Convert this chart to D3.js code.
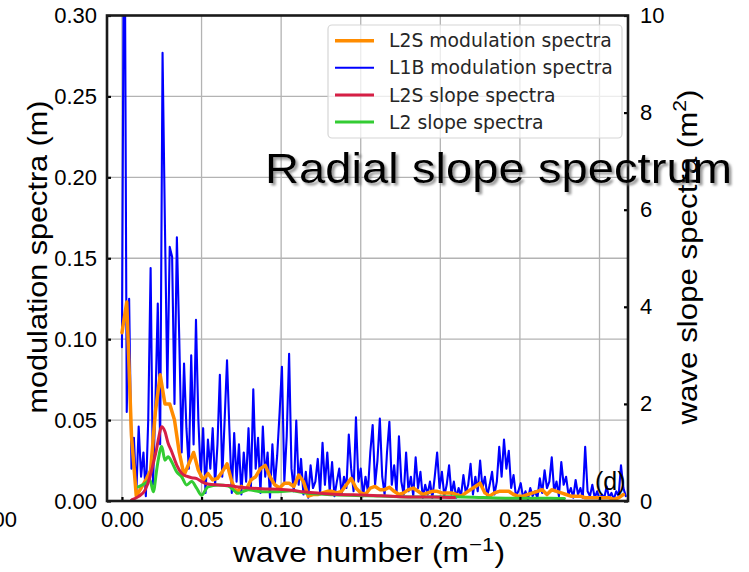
<!DOCTYPE html>
<html><head><meta charset="utf-8">
<script src="https://cdn.jsdelivr.net/npm/d3@7"></script>
<style>
html,body{margin:0;padding:0;background:#fff;}
svg{display:block;}
</style></head><body>
<svg id="chart" width="749" height="572"></svg>
<script>
// ---------------- DATA ----------------
// L1B modulation spectra (left axis, m), sampled every 0.0015 m^-1 from 0
const l1bStart = 0, l1bStep = 0.0015;
const l1bModulation = [
  0.095,0.42,0.055,0.125,0.02,0.039,0.004,0.046,0.015,0.03,
  0.003,0.05,0.144,0.01,0.06,0.122,0.035,0.277,0.17,0.07,
  0.157,0.151,0.06,0.163,0.10,0.03,0.085,0.045,0.02,0.09,
  0.035,0.112,0.05,0.015,0.045,0.005,0.038,0.02,0.045,0.01,
  0.035,0.078,0.015,0.05,0.087,0.044,0.005,0.042,0.012,0.035,
  0.004,0.03,0.012,0.045,0.008,0.069,0.02,0.039,0.005,0.046,
  0.015,0.03,0.002,0.035,0.01,0.028,0.054,0.083,0.012,0.04,
  0.091,0.02,0.006,0.0497,0.01,0.026,0.004,0.018,0.002,0.022,
  0.008,0.012,0.026,0.005,0.036,0.01,0.030,0.006,0.024,0.003,
  0.012,0.020,0.004,0.015,0.008,0.041,0.02,0.006,0.0517,0.012,
  0.02,0.003,0.015,0.006,0.03,0.047,0.01,0.025,0.051,0.015,
  0.004,0.03,0.049,0.01,0.022,0.005,0.040,0.012,0.004,0.030,
  0.006,0.015,0.003,0.027,0.008,0.018,0.002,0.01,0.004,0.012,
  0.002,0.015,0.030,0.008,0.018,0.003,0.01,0.022,0.004,0.012,
  0.002,0.008,0.003,0.016,0.005,0.01,0.023,0.004,0.015,0.006,
  0.025,0.008,0.015,0.003,0.01,0.018,0.004,0.012,0.0335,0.015,
  0.038,0.02,0.031,0.008,0.016,0.003,0.006,0.011,0.002,0.006,
  0.001,0.008,0.003,0.006,0.002,0.014,0.005,0.019,0.008,0.012,
  0.027,0.006,0.012,0.003,0.024,0.01,0.015,0.004,0.008,0.002,
  0.013,0.004,0.008,0.002,0.0335,0.006,0.003,0.010,0.002,0.006,
  0.001,0.004,0.002,0.009,0.002,0.005,0.001,0.006,0.003,0.022,
  0.008,0.003
];
// L2S modulation spectra (left axis, m), sampled every 0.003 m^-1 from 0
const l2sStart = 0, l2sStep = 0.003;
const l2sModulation = [
  0.104,0.123,0.040,0.003,0.008,0.013,0.019,0.055,0.078,0.060,
  0.060,0.050,0.030,0.016,0.023,0.030,0.019,0.013,0.017,0.013,
  0.014,0.018,0.023,0.012,0.005,0.009,0.007,0.013,0.015,0.020,
  0.022,0.015,0.010,0.008,0.011,0.011,0.009,0.016,0.012,0.003,
  0.004,0.004,0.005,0.006,0.006,0.005,0.006,0.010,0.014,0.008,
  0.005,0.004,0.008,0.009,0.007,0.007,0.0085,0.006,0.004,0.005,
  0.007,0.008,0.006,0.004,0.005,0.006,0.006,0.005,0.005,0.005,
  0.004,0.003,0.005,0.007,0.009,0.011,0.005,0.003,0.005,0.006,
  0.006,0.006,0.004,0.003,0.003,0.004,0.005,0.006,0.007,0.004,
  0.007,0.006,0.005,0.004,0.003,0.003,0.003,0.002,0.002,0.002,
  0.002,0.002,0.002,0.001,0.002,0.004
];
// slope spectra (right axis, m^2)
const slopeK = [0.006,0.0103,0.0144,0.0176,0.0197,0.0218,0.0228,0.025,0.027,0.029,
  0.0312,0.0344,0.0375,0.0406,0.0438,0.047,0.050,0.054,0.0605,0.0668,
  0.073,0.0794,0.0878,0.0982,0.1066,0.114,0.133,0.154,0.1746,0.1956,
  0.209,0.227,0.248,0.269,0.278];
const l2sSlope = [0.02,0.09,0.22,0.50,0.78,1.08,1.26,1.53,1.43,1.19,
  1.02,0.74,0.57,0.51,0.48,0.46,0.40,0.35,0.33,0.32,
  0.29,0.27,0.25,0.24,0.22,0.19,0.14,0.12,0.09,0.08,
  0.07,null,null,null,null];
const l2Slope = [null,0.29,0.36,0.43,0.19,0.64,0.85,1.12,0.84,0.91,
  0.81,0.60,0.50,0.33,0.40,0.26,0.12,0.29,0.33,0.31,
  0.16,0.23,0.19,0.19,0.21,0.17,0.13,0.11,0.09,0.08,
  0.09,0.07,0.055,0.055,0.05];

const xTicks = [0,0.05,0.10,0.15,0.20,0.25,0.30];
const yLeftTicks = [0,0.05,0.10,0.15,0.20,0.25,0.30];
const yRightTicks = [0,2,4,6,8,10];
const legendLabels = ["L2S modulation spectra","L1B modulation spectra","L2S slope spectra","L2 slope spectra"];
const seriesColors = ["#ff8c00","#0000ff","#d61f45","#33cc33"];
const seriesWidths = [3.5,2.1,3,3];

// ---------------- LAYOUT ----------------
const L = 107, R = 628, T = 15.5, B = 501;
const FONT = "'Liberation Sans', Arial, Helvetica, sans-serif";
const svg = d3.select("#chart");

const x = d3.scaleLinear().domain([-0.0094, 0.3179]).range([L, R]);
const yL = d3.scaleLinear().domain([0, 0.30]).range([B, T]);
const yR = d3.scaleLinear().domain([0, 10]).range([B, T]);

const defs = svg.append("defs");
defs.append("clipPath").attr("id","plotclip").append("rect")
  .attr("x",L).attr("y",T).attr("width",R-L).attr("height",B-T);
const f = defs.append("filter").attr("id","shadow").attr("x","-5%").attr("y","-20%").attr("width","115%").attr("height","160%");
f.append("feDropShadow").attr("dx",2.5).attr("dy",2.5).attr("stdDeviation",1.2)
  .attr("flood-color","#777").attr("flood-opacity",0.75);

// grid
const grid = svg.append("g").attr("stroke","#b3b3b3").attr("stroke-width",1.3);
grid.selectAll("line.v").data(xTicks).join("line").attr("class","v")
  .attr("x1",d=>x(d)).attr("x2",d=>x(d)).attr("y1",T).attr("y2",B);
grid.selectAll("line.h").data(yLeftTicks.filter(d=>d>0 && d<0.30)).join("line").attr("class","h")
  .attr("x1",L).attr("x2",R).attr("y1",d=>yL(d)).attr("y2",d=>yL(d));

// series
const blue = l1bModulation.map((v,i)=>({k:l1bStart+i*l1bStep, v}));
const orange = l2sModulation.map((v,i)=>({k:l2sStart+i*l2sStep, v}));
const red = slopeK.map((k,i)=>({k, v:l2sSlope[i]}));
const green = slopeK.map((k,i)=>({k, v:l2Slope[i]}));

const lineL = d3.line().x(d=>x(d.k)).y(d=>yL(d.v));
const lineR = d3.line().defined(d=>d.v!=null).x(d=>x(d.k)).y(d=>yR(d.v)).curve(d3.curveMonotoneX);

const plot = svg.append("g").attr("clip-path","url(#plotclip)").attr("fill","none")
  .attr("stroke-linejoin","round").attr("stroke-linecap","round");
plot.append("path").datum(blue).attr("d",lineL).attr("stroke",seriesColors[1]).attr("stroke-width",seriesWidths[1]);
plot.append("path").datum(orange).attr("d",lineL).attr("stroke",seriesColors[0]).attr("stroke-width",seriesWidths[0]);
plot.append("path").datum(green).attr("d",lineR).attr("stroke",seriesColors[3]).attr("stroke-width",seriesWidths[3]);
plot.append("path").datum(red).attr("d",lineR).attr("stroke",seriesColors[2]).attr("stroke-width",seriesWidths[2]);

// axes
function styleAxis(g){
  g.select(".domain").remove();
  g.selectAll(".tick line").attr("stroke","#000").attr("stroke-width",2.2);
  g.selectAll("text").attr("font-family",FONT).attr("font-size",22).attr("fill","#000");
}
svg.append("g").attr("transform",`translate(${L},0)`)
  .call(d3.axisLeft(yL).tickValues(yLeftTicks).tickFormat(d3.format(".2f")).tickSizeInner(-4).tickSizeOuter(0).tickPadding(10))
  .call(styleAxis);
svg.append("g").attr("transform",`translate(0,${B})`)
  .call(d3.axisBottom(x).tickValues(xTicks).tickFormat(d3.format(".2f")).tickSizeInner(-4).tickSizeOuter(0).tickPadding(10))
  .call(styleAxis);
svg.append("g").attr("transform",`translate(${R},0)`)
  .call(d3.axisRight(yR).tickValues(yRightTicks).tickFormat(d3.format("d")).tickSizeInner(-4).tickSizeOuter(0).tickPadding(12))
  .call(styleAxis);

// frame
svg.append("rect").attr("x",L).attr("y",T).attr("width",R-L).attr("height",B-T)
  .attr("fill","none").attr("stroke","#1a1a1a").attr("stroke-width",2.6);

// legend
const lg = svg.append("g");
lg.append("rect").attr("x",328).attr("y",25).attr("width",294).attr("height",113).attr("rx",4)
  .attr("fill","#fff").attr("fill-opacity",0.75).attr("stroke","#d6d6d6").attr("stroke-width",1.2);
const rows = [40.7,67.7,95,122];
legendLabels.forEach((lab,i)=>{
  lg.append("line").attr("x1",335).attr("x2",374).attr("y1",rows[i]).attr("y2",rows[i])
    .attr("stroke",seriesColors[i]).attr("stroke-width",seriesWidths[i]);
  lg.append("text").attr("x",389).attr("y",rows[i]).attr("dy","0.36em")
    .attr("font-family","'DejaVu Sans', sans-serif").attr("font-size",18.8).attr("fill","#262626").text(lab);
});

// axis labels
svg.append("text").attr("transform","translate(47,257) rotate(-90)").attr("text-anchor","middle")
  .attr("font-family",FONT).attr("font-size",28).attr("textLength",313).attr("lengthAdjust","spacingAndGlyphs")
  .text("modulation spectra (m)");
const xl = svg.append("text").attr("x",233).attr("y",562)
  .attr("font-family",FONT).attr("font-size",27).attr("textLength",272).attr("lengthAdjust","spacingAndGlyphs");
xl.append("tspan").text("wave number (m");
xl.append("tspan").attr("font-size",19).attr("dy",-11).text("\u22121");
xl.append("tspan").attr("dy",11).text(")");
const rl = svg.append("text").attr("transform","translate(697,257) rotate(-90)").attr("text-anchor","middle")
  .attr("font-family",FONT).attr("font-size",28).attr("textLength",335).attr("lengthAdjust","spacingAndGlyphs");
rl.append("tspan").text("wave slope spectra (m");
rl.append("tspan").attr("font-size",19).attr("dy",-11).text("2");
rl.append("tspan").attr("dy",11).text(")");

// panel tag
svg.append("text").attr("x",595).attr("y",490).attr("font-family",FONT).attr("font-size",25).text("(d)");
// neighbouring panel's cut-off tick label (cut off at the left edge in the reference too)
svg.append("text").attr("x",17).attr("y",527).attr("text-anchor","end").attr("font-family",FONT).attr("font-size",22).text("0.00");

// overlaid title
svg.append("text").attr("x",265).attr("y",183).attr("font-family",FONT).attr("font-size",42)
  .attr("textLength",467).attr("lengthAdjust","spacingAndGlyphs").attr("filter","url(#shadow)")
  .text("Radial slope spectrum");
</script>
</body></html>
